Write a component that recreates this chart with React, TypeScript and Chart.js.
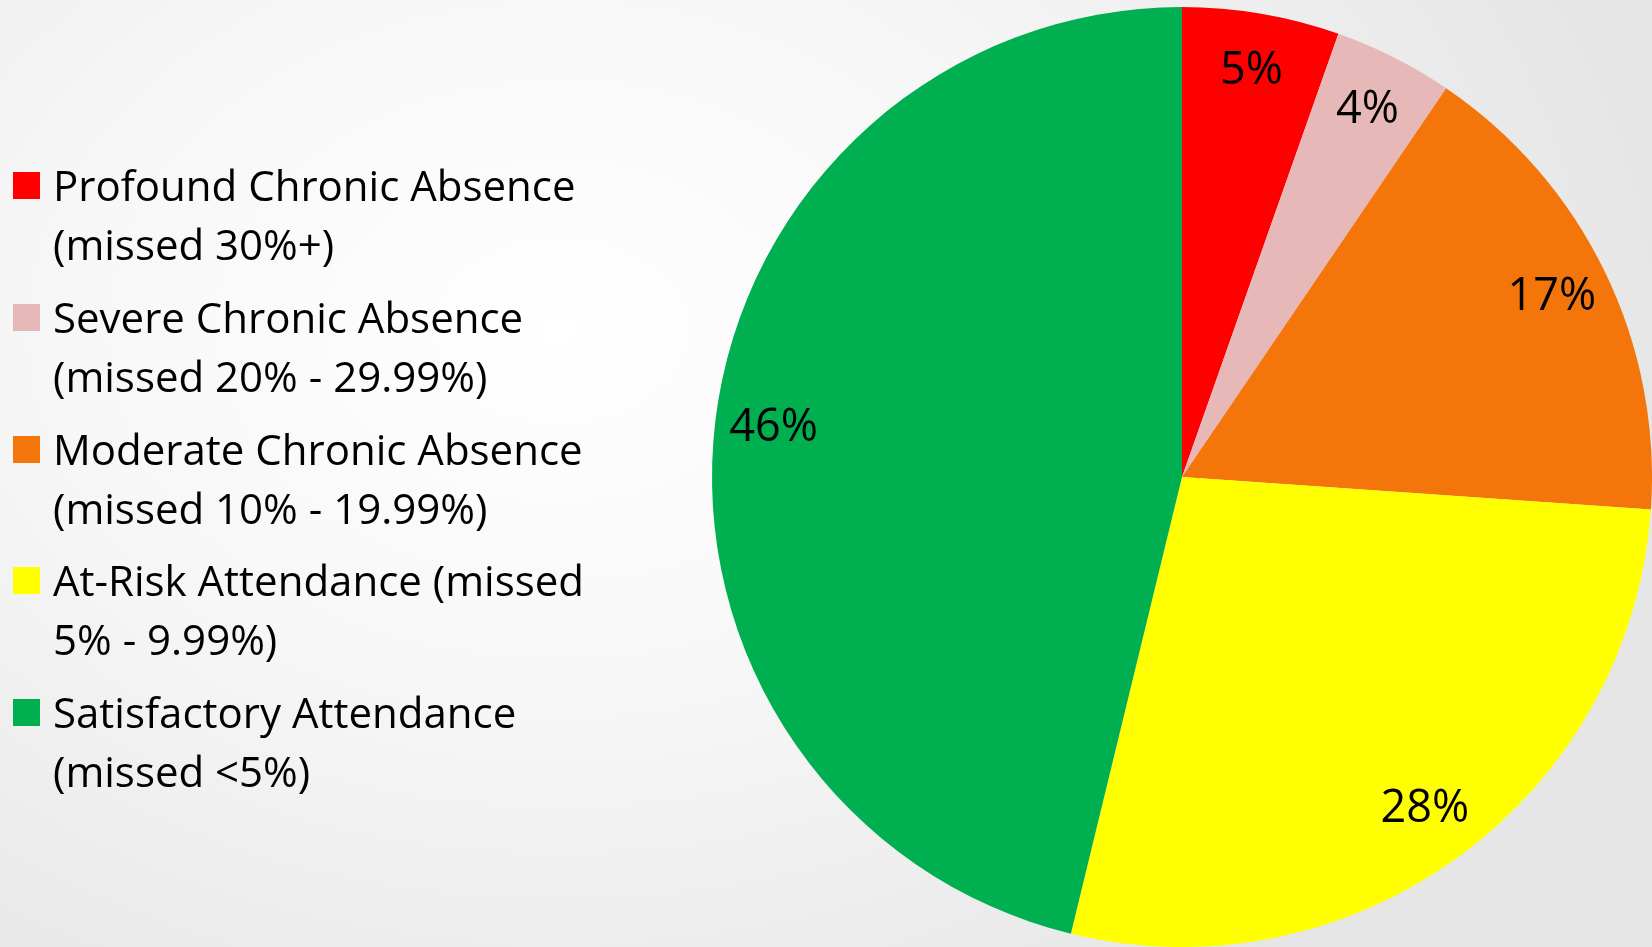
import React, { useEffect, useRef } from "react";
import { Chart, registerables } from "chart.js";

Chart.register(...registerables);

const categories: string[][] = [
  ["Profound Chronic Absence", "(missed 30%+)"],
  ["Severe Chronic Absence", "(missed 20% - 29.99%)"],
  ["Moderate Chronic Absence", "(missed 10% - 19.99%)"],
  ["At-Risk Attendance (missed", "5% - 9.99%)"],
  ["Satisfactory Attendance", "(missed <5%)"],
];
const shares: number[] = [5.4, 4.1, 16.6, 27.7, 46.2];
const colors: string[] = ["#FF0000", "#E6B8B7", "#F4760B", "#FFFF00", "#00B050"];

const FONT = "'Open Sans', 'Noto Sans', sans-serif";

const sliceLabels = {
  id: "sliceLabels",
  afterDatasetsDraw(chart: any) {
    const ctx = chart.ctx;
    const meta = chart.getDatasetMeta(0);
    const data = chart.data.datasets[0].data as number[];
    const total = data.reduce((a, b) => a + b, 0);
    ctx.save();
    ctx.fillStyle = "#000";
    ctx.font = `45px ${FONT}`;
    ctx.textAlign = "center";
    ctx.textBaseline = "middle";
    meta.data.forEach((arc: any, i: number) => {
      const p = arc.getProps(["x", "y", "startAngle", "endAngle", "outerRadius"], true);
      const mid = (p.startAngle + p.endAngle) / 2;
      const r = p.outerRadius * 0.875;
      const x = p.x + Math.cos(mid) * r;
      const y = p.y + Math.sin(mid) * r;
      ctx.fillText(`${Math.round((data[i] / total) * 100)}%`, x, y);
    });
    ctx.restore();
  },
};

export default function App() {
  const ref = useRef<HTMLCanvasElement | null>(null);

  useEffect(() => {
    document.body.style.margin = "0";
    if (!ref.current) return;
    const chart = new Chart(ref.current, {
      type: "pie",
      data: {
        labels: categories.map((c) => c.join(" ")),
        datasets: [
          {
            data: shares,
            backgroundColor: colors,
            borderWidth: 0,
          },
        ],
      },
      options: {
        responsive: false,
        animation: false,
        layout: { padding: { left: 712, right: 0, top: 7, bottom: 0 } },
        plugins: {
          legend: { display: false },
          tooltip: { enabled: false },
        },
      },
      plugins: [sliceLabels],
    });
    return () => chart.destroy();
  }, []);

  return (
    <div
      style={{
        position: "fixed",
        left: 0,
        top: 0,
        width: 1652,
        height: 947,
        overflow: "hidden",
        background:
          "radial-gradient(ellipse 1100px 800px at 560px 330px, #ffffff 0%, #f7f7f7 45%, #e6e6e6 100%)",
        fontFamily: FONT,
      }}
    >
      <canvas
        ref={ref}
        width={1652}
        height={947}
        style={{ position: "absolute", left: 0, top: 0, width: 1652, height: 947 }}
      />
      <div style={{ position: "absolute", left: 0, top: 155 }}>
        {categories.map((lines, i) => (
          <div key={i} style={{ position: "relative", height: 118, marginBottom: 13.75 }}>
            <div
              style={{
                position: "absolute",
                left: 13,
                top: 17,
                width: 27,
                height: 27,
                background: colors[i],
              }}
            />
            {lines.map((t, j) => (
              <div
                key={j}
                style={{
                  position: "absolute",
                  left: 53,
                  top: j * 59,
                  height: 59,
                  lineHeight: "59px",
                  fontSize: 42,
                  color: "#000",
                  whiteSpace: "nowrap",
                }}
              >
                {t}
              </div>
            ))}
          </div>
        ))}
      </div>
    </div>
  );
}
